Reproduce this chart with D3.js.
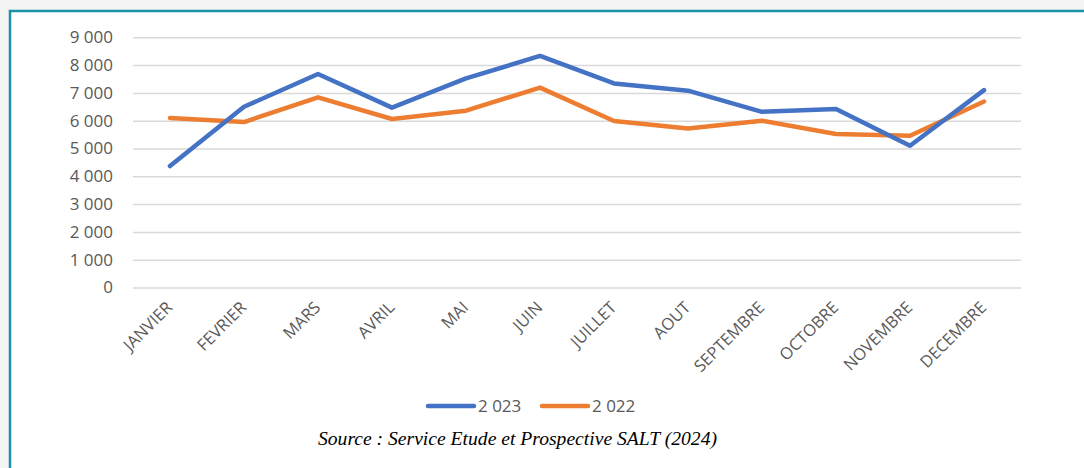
<!DOCTYPE html>
<html>
<head>
<meta charset="utf-8">
<script src="https://cdn.jsdelivr.net/npm/d3@7"></script>
<style>
  body { margin: 0; background: #f3f3f3; }
  svg { display: block; }
</style>
</head>
<body>
<div id="chart"></div>
<script>
// Chart data
var months = ["JANVIER", "FEVRIER", "MARS", "AVRIL", "MAI", "JUIN", "JUILLET", "AOUT", "SEPTEMBRE", "OCTOBRE", "NOVEMBRE", "DECEMBRE"];
var values2023 = [4370, 6500, 7680, 6470, 7520, 8330, 7340, 7080, 6320, 6420, 5100, 7100];
var values2022 = [6100, 5950, 6840, 6060, 6360, 7190, 5990, 5720, 6000, 5520, 5460, 6690];
var yTicks = [0, 1000, 2000, 3000, 4000, 5000, 6000, 7000, 8000, 9000];
var seriesNames = ["2 023", "2 022"];
var sourceText = "Source : Service Etude et Prospective SALT (2024)";

var svgWidth = 1084;
var svgHeight = 468;

var svg = d3.select("#chart")
  .append("svg")
  .attr("width", svgWidth)
  .attr("height", svgHeight);

// White frame with teal border on top and left
svg.append("rect")
  .attr("x", 10).attr("y", 11)
  .attr("width", svgWidth - 10).attr("height", svgHeight - 11)
  .attr("fill", "#ffffff");
svg.append("path")
  .attr("d", "M10," + svgHeight + "V11H" + svgWidth)
  .attr("fill", "none")
  .attr("stroke", "#1b91a5")
  .attr("stroke-width", 2.5);

// Plot area
var plotLeft = 133, plotRight = 1021, plotTop = 37.3, plotBottom = 287.5;

var x = d3.scalePoint()
  .domain(months)
  .range([plotLeft, plotRight])
  .padding(0.5);

var y = d3.scaleLinear()
  .domain([0, 9000])
  .range([plotBottom, plotTop]);

var fmt = d3.formatLocale({ decimal: ",", thousands: " ", grouping: [3], currency: ["", ""] }).format(",d");

// Y axis with gridlines
var yAxis = svg.append("g")
  .attr("transform", "translate(" + plotLeft + ",0)")
  .call(d3.axisLeft(y)
    .tickValues(yTicks)
    .tickFormat(fmt)
    .tickSize(-(plotRight - plotLeft))
    .tickPadding(20));
yAxis.select(".domain").remove();
yAxis.selectAll(".tick line")
  .attr("stroke", "#d9d9d9")
  .attr("stroke-width", 1.5);
yAxis.selectAll(".tick text")
  .attr("fill", "#595959")
  .style("font-family", "'Open Sans', sans-serif")
  .style("font-size", "17px");

// X axis labels, rotated
var xAxis = svg.append("g")
  .attr("transform", "translate(0," + plotBottom + ")")
  .call(d3.axisBottom(x).tickSize(0).tickPadding(0));
xAxis.select(".domain").remove();
xAxis.selectAll(".tick text")
  .attr("fill", "#595959")
  .style("font-family", "'Open Sans', sans-serif")
  .style("font-size", "16.5px")
  .attr("text-anchor", "end")
  .attr("dy", null)
  .attr("y", 0)
  .attr("transform", "translate(3,21) rotate(-45)");

// Lines
var line = d3.line()
  .x(function(d, i) { return x(months[i]); })
  .y(function(d) { return y(d); });

var series = [
  { name: seriesNames[0], values: values2023, color: "#4472c4" },
  { name: seriesNames[1], values: values2022, color: "#ed7d31" }
];

// Draw 2022 first so 2023 sits on top
series.slice().reverse().forEach(function(s) {
  svg.append("path")
    .datum(s.values)
    .attr("d", line)
    .attr("fill", "none")
    .attr("stroke", s.color)
    .attr("stroke-width", 4.5)
    .attr("stroke-linejoin", "round")
    .attr("stroke-linecap", "round");
});

// Legend
var legendX = [428, 542];
var legend = svg.append("g");
series.forEach(function(s, i) {
  legend.append("line")
    .attr("x1", legendX[i]).attr("x2", legendX[i] + 46)
    .attr("y1", 406).attr("y2", 406)
    .attr("stroke", s.color)
    .attr("stroke-width", 4.5)
    .attr("stroke-linecap", "round");
  legend.append("text")
    .attr("x", legendX[i] + 50)
    .attr("y", 406)
    .attr("dy", "0.35em")
    .attr("fill", "#595959")
    .style("font-family", "'Open Sans', sans-serif")
    .style("font-size", "17px")
    .text(s.name);
});

// Source note
svg.append("text")
  .attr("x", 318)
  .attr("y", 445)
  .attr("textLength", 399)
  .attr("lengthAdjust", "spacingAndGlyphs")
  .attr("fill", "#000000")
  .style("font-family", "'Liberation Serif', serif")
  .style("font-style", "italic")
  .style("font-size", "19px")
  .text(sourceText);
</script>
</body>
</html>
